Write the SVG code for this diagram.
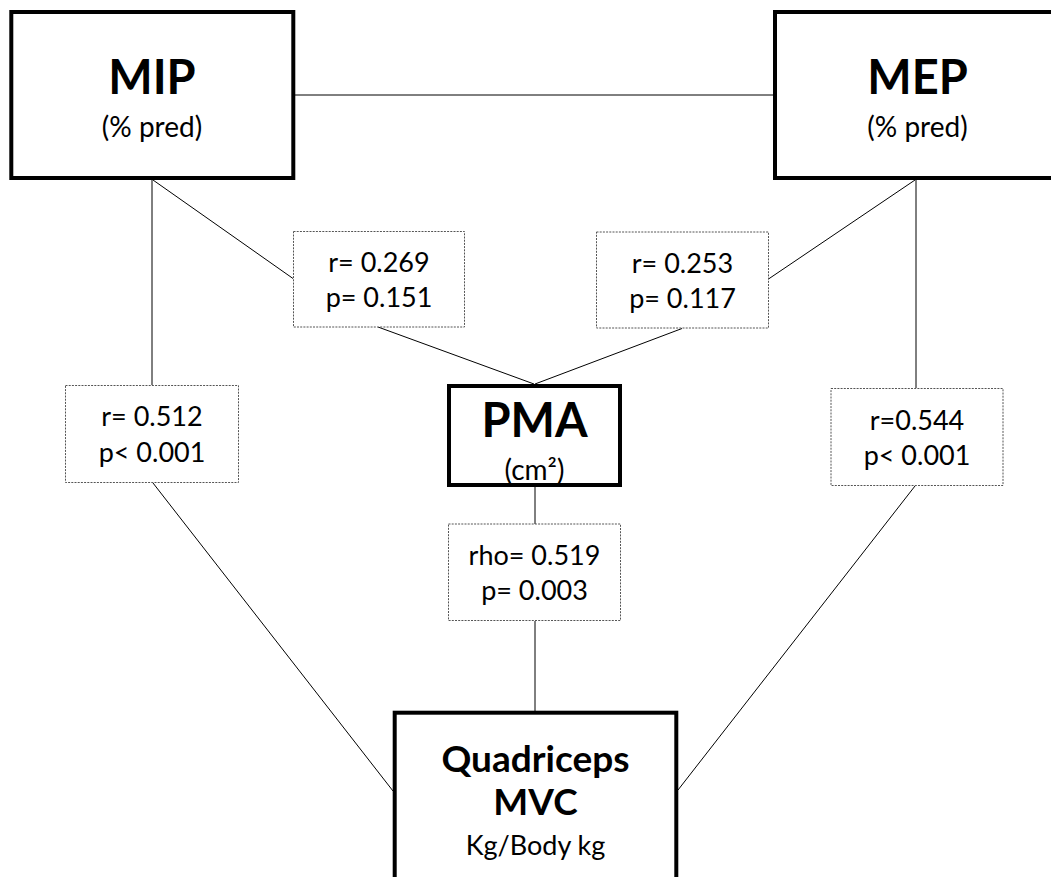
<svg xmlns="http://www.w3.org/2000/svg" width="1051" height="877" viewBox="0 0 1051 877">
<style>
.node{fill:#fff;stroke:#000;stroke-width:4}
.lab{fill:#fff;stroke:#555;stroke-width:1;stroke-dasharray:2 1.2}
.conn line{stroke:#000;stroke-width:1}
text{font-family:Lato,"Liberation Sans",sans-serif;fill:#000;text-anchor:middle}
.big{font-weight:bold;font-size:47px}
.quad{font-weight:bold;font-size:37px}
.sub{font-size:28px}
.val{font-size:27px}
</style>
<rect width="1051" height="877" fill="#fff"/>
<g class="conn" id="connectors">
<line x1="295" y1="95" x2="773" y2="95"/>
<line x1="152" y1="180" x2="152" y2="385"/>
<line x1="153" y1="180" x2="293" y2="278.5"/>
<line x1="915" y1="180" x2="768.5" y2="279"/>
<line x1="916" y1="180" x2="916" y2="388"/>
<line x1="378" y1="327" x2="534" y2="384"/>
<line x1="682" y1="328.5" x2="535" y2="384"/>
<line x1="153" y1="483" x2="393" y2="791"/>
<line x1="915" y1="486" x2="678" y2="790"/>
<line x1="535" y1="487" x2="535" y2="524"/>
<line x1="535" y1="621" x2="535" y2="711"/>
</g>
<g id="mip">
<rect class="node" x="11.3" y="12" width="282" height="166"/>
<text class="big" x="152" y="94">MIP</text>
<text class="sub" x="152" y="137">(% pred)</text>
</g>
<g id="mep">
<rect class="node" x="775" y="12" width="290" height="166"/>
<text class="big" x="917.5" y="94">MEP</text>
<text class="sub" x="917.5" y="137">(% pred)</text>
</g>
<g id="pma">
<rect class="node" x="449" y="386" width="171" height="99"/>
<text class="big" x="534.5" y="436.5">PMA</text>
<text class="sub" x="534.5" y="480">(cm²)</text>
</g>
<g id="quad">
<rect class="node" x="394.7" y="712.7" width="281.6" height="200"/>
<text class="quad" x="535.5" y="771.7">Quadriceps</text>
<text class="quad" x="535.5" y="815">MVC</text>
<text class="val" x="535.5" y="855">Kg/Body kg</text>
</g>
<g id="lab-mip-pma">
<rect class="lab" x="293.5" y="231.5" width="171" height="95.5"/>
<text class="val" x="379" y="271.7">r= 0.269</text>
<text class="val" x="379" y="307.3">p= 0.151</text>
</g>
<g id="lab-mep-pma">
<rect class="lab" x="596.5" y="232" width="172" height="96"/>
<text class="val" x="682.5" y="272.5">r= 0.253</text>
<text class="val" x="682.5" y="308">p= 0.117</text>
</g>
<g id="lab-mip-quad">
<rect class="lab" x="65.5" y="385.5" width="173" height="97"/>
<text class="val" x="152" y="426">r= 0.512</text>
<text class="val" x="152" y="461.7">p&lt; 0.001</text>
</g>
<g id="lab-mep-quad">
<rect class="lab" x="831" y="388.5" width="172" height="97"/>
<text class="val" x="917" y="430">r=0.544</text>
<text class="val" x="917" y="465">p&lt; 0.001</text>
</g>
<g id="lab-pma-quad">
<rect class="lab" x="448.5" y="524" width="172" height="96.5"/>
<text class="val" x="534.5" y="565">rho= 0.519</text>
<text class="val" x="534.5" y="600">p= 0.003</text>
</g>
</svg>
